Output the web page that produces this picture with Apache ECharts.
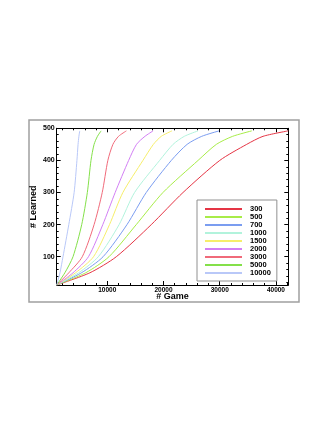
<!DOCTYPE html>
<html>
<head>
<meta charset="utf-8">
<script src="https://cdn.jsdelivr.net/npm/echarts@6/dist/echarts.min.js"></script>
<style>
  html, body { margin: 0; padding: 0; background: #fff; }
  #chart { width: 327px; height: 423px; }
</style>
</head>
<body>
<div id="chart"></div>
<script>
// learned counts shared by every curve, and the games needed to reach them
const learnedLevels = [12, 50, 100, 200, 300, 400, 450, 475, 492]
const games300 = [1000, 6900, 11600, 17820, 23470, 30010, 34800, 37700, 42200]
const games500 = [1000, 6150, 10300, 15150, 19900, 26150, 29400, 32300, 35700]
const games700 = [1000, 5400, 9250, 13500, 16930, 21390, 24200, 26800, 29900]
const games1000 = [1000, 4900, 8400, 12100, 14850, 19310, 21700, 23700, 26150]
const games1500 = [1000, 4350, 7550, 10390, 12770, 16340, 18200, 19600, 21500]
const games2000 = [1000, 3900, 6650, 9200, 11400, 13800, 15200, 16700, 18150]
const games3000 = [1000, 3150, 5550, 7650, 9100, 10100, 11000, 12000, 13400]
const games5000 = [1000, 2450, 3900, 5450, 6450, 7100, 7650, 8250, 8900]
const games10000 = [1000, 1580, 2120, 3150, 4100, 4600, 4800, 4950, 5100]

const seriesNames = ['300', '500', '700', '1000', '1500', '2000', '3000', '5000', '10000']
const seriesGames = [games300, games500, games700, games1000, games1500, games2000, games3000, games5000, games10000]
const seriesColors = ['#e53545', '#a8ec48', '#7b9df0', '#b2f3dc', '#f6ee6a', '#d27ff4', '#f06a7a', '#84e04a', '#b9c8f8']

const gameTicks = [10000, 20000, 30000, 40000]
const gameMinorTicks = [2000, 4000, 6000, 8000, 12000, 14000, 16000, 18000, 22000, 24000, 26000, 28000, 32000, 34000, 36000, 38000, 42000]
const learnedTicks = [100, 200, 300, 400, 500]
const learnedMinorTicks = [20, 40, 60, 80, 120, 140, 160, 180, 220, 240, 260, 280, 320, 340, 360, 380, 420, 440, 460, 480]

const font = 'Liberation Sans'
const black = '#000'

function axisBase (extra) {
  return Object.assign({
    type: 'value',
    splitLine: { show: false },
    axisLine: { show: true, lineStyle: { color: black, width: 1 } },
    axisLabel: { show: false },
    axisTick: { show: true, inside: true, length: 4, lineStyle: { color: black } }
  }, extra)
}

function ticks (values, len) {
  return { show: true, inside: true, length: len, customValues: values, lineStyle: { color: black } }
}

let xAxes = [
  axisBase({
    position: 'bottom', min: 1000, max: 42200,
    name: '# Game', nameLocation: 'middle', nameGap: 7.5, nameMoveOverlap: false,
    nameTextStyle: { color: black, fontFamily: font, fontWeight: 'bold', fontSize: 9 },
    axisTick: ticks(gameTicks, 4),
    axisLabel: { show: true, customValues: gameTicks, margin: 2, color: black, fontFamily: font, fontWeight: 'bold', fontSize: 6.5, formatter: v => String(v) }
  }),
  axisBase({ position: 'top', min: 1000, max: 42200, axisTick: ticks(gameTicks, 4) }),
  axisBase({ position: 'bottom', min: 1000, max: 42200, axisLine: { show: false }, axisTick: ticks(gameMinorTicks, 2) }),
  axisBase({ position: 'top', min: 1000, max: 42200, axisLine: { show: false }, axisTick: ticks(gameMinorTicks, 2) })
]

let yAxes = [
  axisBase({
    position: 'left', min: 12, max: 500,
    name: '# Learned', nameLocation: 'middle', nameGap: 18.5, nameRotate: 90, nameMoveOverlap: false,
    nameTextStyle: { color: black, fontFamily: font, fontWeight: 'bold', fontSize: 9 },
    axisTick: ticks(learnedTicks, 4),
    axisLabel: { show: true, customValues: learnedTicks, margin: 2, color: black, fontFamily: font, fontWeight: 'bold', fontSize: 7 }
  }),
  axisBase({ position: 'right', min: 12, max: 500, axisTick: ticks(learnedTicks, 4) }),
  axisBase({ position: 'left', min: 12, max: 500, axisLine: { show: false }, axisTick: ticks(learnedMinorTicks, 2) }),
  axisBase({ position: 'right', min: 12, max: 500, axisLine: { show: false }, axisTick: ticks(learnedMinorTicks, 2) })
]

let series = seriesNames.map((name, i) => ({
  name,
  type: 'line',
  xAxisIndex: 0,
  yAxisIndex: 0,
  showSymbol: false,
  symbol: 'none',
  smooth: 0.25,
  lineStyle: { color: seriesColors[i], width: 1 },
  itemStyle: { color: seriesColors[i] },
  data: seriesGames[i].map((g, j) => [g, learnedLevels[j]])
}))

let chart = echarts.init(document.getElementById('chart'), null, { renderer: 'canvas' })
chart.setOption({
  animation: false,
  backgroundColor: '#fff',
  grid: { left: 56.7, top: 128.3, right: 38.7, bottom: 138, containLabel: false },
  xAxis: xAxes,
  yAxis: yAxes,
  legend: {
    orient: 'vertical',
    left: 197,
    top: 200,
    padding: [5, 6, 4, 8],
    itemGap: 0,
    itemWidth: 37,
    itemHeight: 2,
    icon: 'rect',
    backgroundColor: '#fff',
    borderColor: '#909090',
    borderWidth: 1,
    textStyle: { color: black, fontFamily: font, fontWeight: 'bold', fontSize: 7.5, lineHeight: 7.6, padding: [0, 0, 0, 3] },
    data: seriesNames
  },
  graphic: [{
    type: 'rect',
    silent: true,
    shape: { x: 29, y: 120, width: 270, height: 182 },
    style: { fill: 'none', stroke: '#a0a0a0', lineWidth: 1.5 }
  }],
  series
})
</script>
</body>
</html>
